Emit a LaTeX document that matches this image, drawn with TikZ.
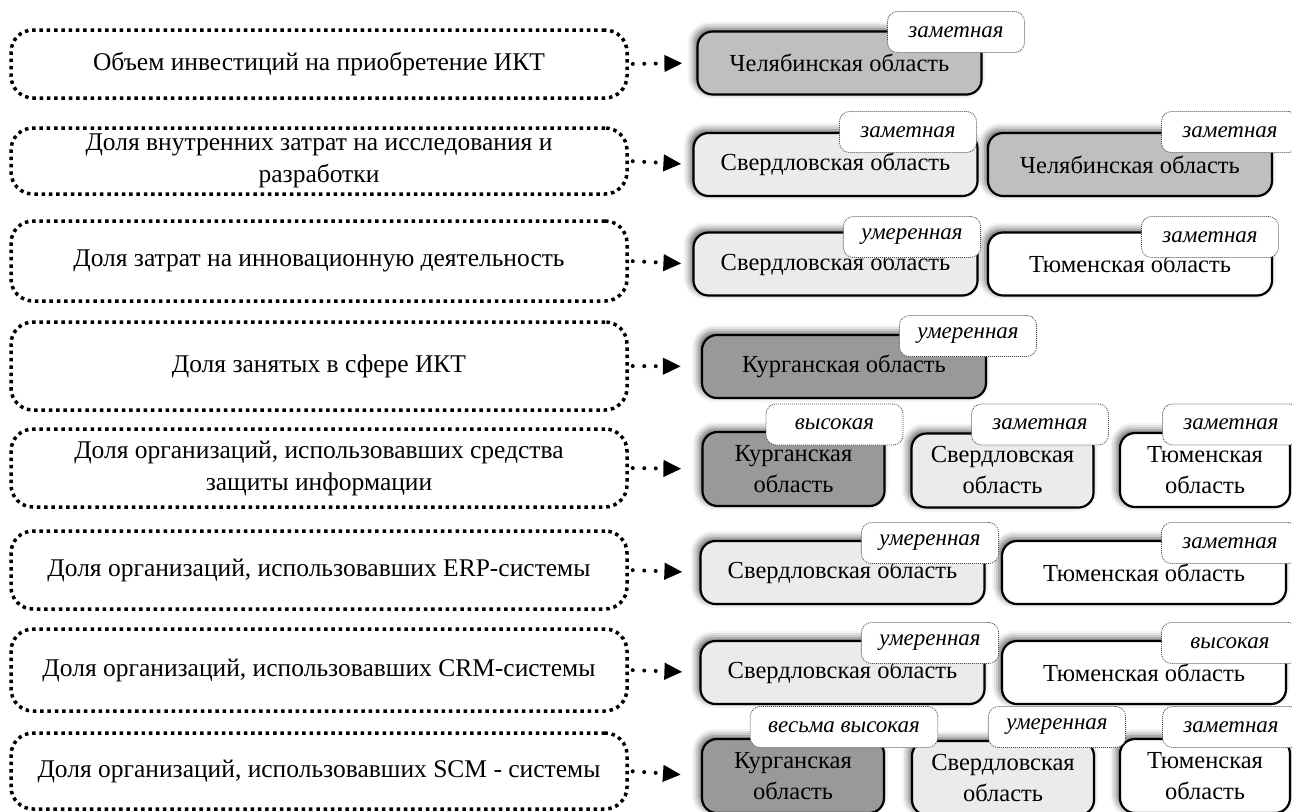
\documentclass[tikz,border=0pt]{standalone}
\usepackage{fontspec}
\setmainfont{Liberation Serif}
\usetikzlibrary{arrows.meta,shadows.blur}

\begin{document}
\begin{tikzpicture}[
            x=1pt, y=-1pt,
            every node/.style={font=\fontsize{24.5}{31}\selectfont},
            crit/.style={draw, line width=3.5pt, dash pattern=on 3.5pt off 3.8pt,
                rounded corners=22pt, minimum width=616pt, minimum height=#1,
                align=center, inner sep=2pt, font=\fontsize{25.5}{32}\selectfont},
            crit/.default=68pt,
            reg/.style={draw, line width=2.2pt, fill=#1, rounded corners=15pt,
                align=center, inner sep=2pt,
                blur shadow={shadow xshift=-3pt, shadow yshift=3pt,
                    shadow blur radius=7pt, shadow opacity=65}},
            reg/.default=white,
            wide/.style={minimum width=284pt, minimum height=63pt},
            narrow/.style={minimum width=#1, minimum height=74pt},
            narrow/.default=182pt,
            tag/.style={draw=black!70, line width=0.8pt, dash pattern=on 1pt off 1pt,
                fill=white, rounded corners=10pt, minimum width=137pt,
                minimum height=41pt, inner xsep=18pt,
                font=\fontsize{23}{26}\selectfont\itshape},
            link/.style={line width=4pt, line cap=round,
                dash pattern=on 0pt off 11.5pt,
                -{Triangle[length=18pt,width=16pt]}, shorten <=4pt, shorten >=#1},
            link/.default=14pt
        ]
        \useasboundingbox (0,0) rectangle (1292,811);

        % indicators
        \node[crit] (l1) at (319,64) {Объем инвестиций на приобретение ИКТ};
        \node[crit=66pt] (l2) at (319,161) {Доля внутренних затрат на исследования и\\разработки};
        \node[crit=80pt] (l3) at (319,261) {Доля затрат на инновационную деятельность};
        \node[crit=88pt] (l4) at (319,366) {Доля занятых в сфере ИКТ};
        \node[crit=78pt] (l5) at (319,468) {Доля организаций, использовавших средства\\защиты информации};
        \node[crit=78pt] (l6) at (319,570) {Доля организаций, использовавших ERP-системы};
        \node[crit=82pt] (l7) at (319,670) {Доля организаций, использовавших CRM-системы};
        \node[crit=76pt] (l8) at (319,771) {Доля организаций, использовавших SCM - системы};

        % regions
        \node[reg=black!25, wide] (c1) at (839.5,63) {Челябинская область};

        \node[reg=black!8, wide] (c2a) at (835.5,164.5) {Свердловская область};
        \node[reg=black!25, wide] (c2b) at (1130,164.5) {Челябинская область};

        \node[reg=black!8, wide] (c3a) at (835.5,264) {Свердловская область};
        \node[reg, wide] (c3b) at (1130,264) {Тюменская область};

        \node[reg=black!40, wide] (c4a) at (844,366.5) {Курганская область};

        \node[reg=black!40, narrow] (c5a) at (793.5,469) {Курганская\\область};
        \node[reg=black!8, narrow] (c5b) at (1002.5,470.5) {Свердловская\\область};
        \node[reg, narrow=170pt] (c5c) at (1205,470) {Тюменская\\область};

        \node[reg=black!8, wide] (c6a) at (842.5,572.5) {Свердловская область};
        \node[reg, wide] (c6b) at (1144,572.5) {Тюменская область};

        \node[reg=black!8, wide] (c7a) at (842.5,672.5) {Свердловская область};
        \node[reg, wide] (c7b) at (1144,672.5) {Тюменская область};

        \node[reg=black!40, narrow] (c8a) at (793,776) {Курганская\\область};
        \node[reg=black!8, narrow] (c8b) at (1003,778) {Свердловская\\область};
        \node[reg, narrow=170pt] (c8c) at (1205,776) {Тюменская\\область};

        % levels
        \node[tag] (t1) at (956,32) {заметная};
        \node[tag] (t2a) at (908,132) {заметная};
        \node[tag] (t2b) at (1230,132) {заметная};
        \node[tag] (t3a) at (912,237) {умеренная};
        \node[tag] (t3b) at (1210,237) {заметная};
        \node[tag] (t4a) at (968,336) {умеренная};
        \node[tag] (t5a) at (834.5,424.5) {высокая};
        \node[tag] (t5b) at (1040,424.5) {заметная};
        \node[tag] (t5c) at (1231,424.5) {заметная};
        \node[tag] (t6a) at (930,543) {умеренная};
        \node[tag] (t6b) at (1230,543) {заметная};
        \node[tag] (t7a) at (930,643) {умеренная};
        \node[tag] (t7b) at (1230,643) {высокая};
        \node[tag] (t8a) at (844,727) {весьма высокая};
        \node[tag] (t8b) at (1057,727) {умеренная};
        \node[tag] (t8c) at (1231,727) {заметная};

        % links
        \draw[link] (l1.east) -- (c1.west);
        \draw[link=11pt] (l2.east) -- (c2a.west);
        \draw[link=11pt] (l3.east) -- (c3a.west);
        \draw[link=20pt] (l4.east) -- (c4a.west);
        \draw[link=20pt] (l5.east) -- (c5a.west);
        \draw[link=17pt] (l6.east) -- (c6a.west);
        \draw[link=17pt] (l7.east) -- (c7a.west);
        \draw[link=20pt] (l8.east) -- (c8a.west);
    \end{tikzpicture}
\end{document}
